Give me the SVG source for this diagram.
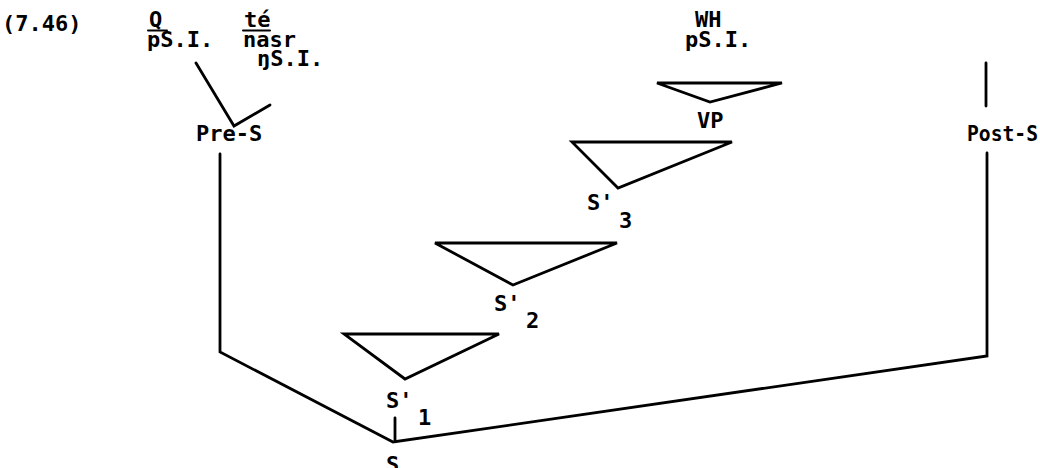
<svg xmlns="http://www.w3.org/2000/svg" width="1040" height="468" viewBox="0 0 1040 468">
<style>
text{font-family:"DejaVu Sans Mono","Liberation Mono",monospace;font-weight:bold;font-size:22px;fill:#000}
line,polyline,polygon{stroke:#000;stroke-width:2.8;fill:none;stroke-linejoin:miter;stroke-linecap:round}
.bar{stroke-width:2}
</style>
<rect width="1040" height="468" fill="#fff"/>
<text x="2" y="31">(7.46)</text>
<g id="connectors">
<polyline points="196,63 234,126 270,105"/>
<polyline points="220,154 220,352 393,442 987,356 987,153"/>
<line x1="986" y1="63" x2="986" y2="106"/>
<line x1="395" y1="418" x2="395" y2="440"/>
</g>
<g id="Q">
<text x="149" y="27">Q</text>
<line class="bar" x1="148" y1="30.5" x2="167" y2="30.5"/>
<text x="147" y="47">pS.I.</text>
</g>
<g id="te">
<text x="244" y="27">té</text>
<line class="bar" x1="243" y1="30.5" x2="270" y2="30.5"/>
<text x="243" y="47">nasr</text>
<text x="257" y="66">ŋS.I.</text>
</g>
<g id="PreS"><text x="196" y="141">Pre-S</text></g>
<g id="PostS"><text x="967" y="141" textLength="71" lengthAdjust="spacingAndGlyphs">Post-S</text></g>
<g id="WH">
<text x="695" y="27">WH</text>
<text x="685" y="47">pS.I.</text>
</g>
<g id="VP">
<polygon points="657,83 782,83 710,102"/>
<text x="697" y="128">VP</text>
</g>
<g id="S3">
<polygon points="572,142 732,142 618,188"/>
<text x="587" y="210">S'</text><text x="619" y="228">3</text>
</g>
<g id="S2">
<polygon points="435,243 617,243 513,285"/>
<text x="494" y="311">S'</text><text x="526" y="328">2</text>
</g>
<g id="S1">
<polygon points="344,334 499,334 405,379"/>
<text x="386" y="408">S'</text><text x="418" y="425">1</text>
</g>
<g id="S"><text x="386" y="472">S</text></g>
</svg>
